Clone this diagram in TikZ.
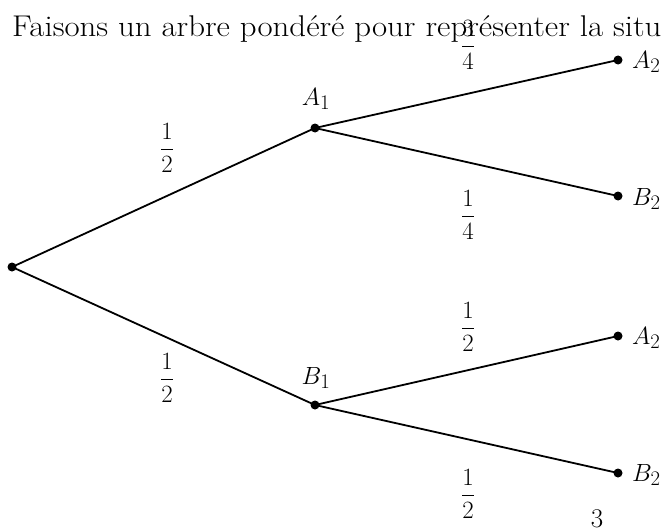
\documentclass[tikz,border=0pt]{standalone}
\usepackage{amsmath}
\begin{document}
\begin{tikzpicture}[x=1pt,y=-1pt,
  dot/.style={circle,fill=black,inner sep=0pt,minimum size=9pt},
  edge/.style={line width=1.8pt},
  lbl/.style={font=\fontsize{29}{32}\selectfont,inner sep=0pt},
  frac/.style={font=\fontsize{27}{30}\selectfont,inner sep=0pt}]
\useasboundingbox (0,0) rectangle (666,527);
\clip (0,0) rectangle (666,527);
\node[anchor=base west,inner sep=0pt,font=\fontsize{30}{34}\selectfont,xscale=1.095] (title) at (12,37) {Faisons un arbre pondéré pour représenter la situ};
\node[dot] (r) at (12,267) {};
\node[dot] (a1) at (315,128) {};
\node[dot] (b1) at (315,405) {};
\node[dot] (a2) at (618,60) {};
\node[dot] (b2) at (618,196) {};
\node[dot] (a2b) at (618,336) {};
\node[dot] (b2b) at (618,473) {};
\draw[edge] (r.center) -- (a1.center);
\draw[edge] (r.center) -- (b1.center);
\draw[edge] (a1.center) -- (a2.center);
\draw[edge] (a1.center) -- (b2.center);
\draw[edge] (b1.center) -- (a2b.center);
\draw[edge] (b1.center) -- (b2b.center);
\node[lbl] (la1) at (316,99) {$A_1$};
\node[lbl] (lb1) at (316,378) {$B_1$};
\node[lbl,anchor=west] (la2) at (632,62) {$A_2$};
\node[lbl,anchor=west] (lb2) at (632,199) {$B_2$};
\node[lbl,anchor=west] (la2b) at (632,338) {$A_2$};
\node[lbl,anchor=west] (lb2b) at (632,475) {$B_2$};
\node[frac] (f1) at (167,148) {$\dfrac{1}{2}$};
\node[frac] (f2) at (167,378) {$\dfrac{1}{2}$};
\node[frac] (f3) at (468,45) {$\dfrac{3}{4}$};
\node[frac] (f4) at (468,215) {$\dfrac{1}{4}$};
\node[frac] (f5) at (468,327) {$\dfrac{1}{2}$};
\node[frac] (f6) at (468,494) {$\dfrac{1}{2}$};
\node[frac,anchor=base] (pg) at (597,527) {3};
\end{tikzpicture}
\end{document}
